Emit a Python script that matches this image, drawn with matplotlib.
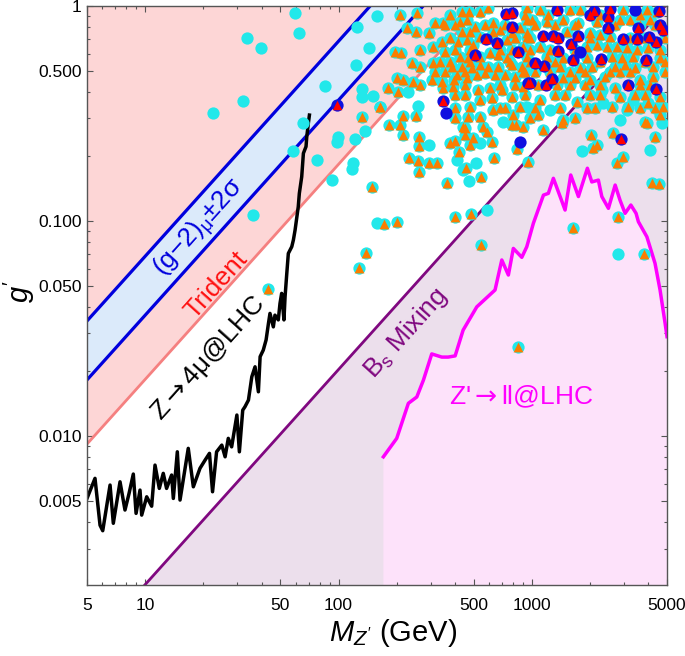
import numpy as np
import matplotlib
matplotlib.use('Agg')
import matplotlib.pyplot as plt
from matplotlib.ticker import FixedLocator, LogLocator, NullFormatter, FixedFormatter

plt.rcParams['font.family'] = ['Liberation Sans', 'DejaVu Sans']
plt.rcParams['mathtext.fontset'] = 'custom'
plt.rcParams['mathtext.rm'] = 'Liberation Sans'
plt.rcParams['mathtext.it'] = 'Liberation Sans:italic'
plt.rcParams['mathtext.bf'] = 'Liberation Sans:bold'
plt.rcParams['mathtext.sf'] = 'DejaVu Sans'

# straight constraint lines (g' proportional to M_Z')
line_M = [5, 5000]
gm2_upper_g = [0.0343, 34.3]
gm2_lower_g = [0.01825, 18.25]
trident_g = [0.00918, 9.18]
bs_g = [0.00102, 1.02]

# Z -> 4mu @ LHC bound
z4mu_M = [5.0, 5.5, 5.84, 6.03, 6.58, 6.84, 7.41, 7.86, 8.25, 8.68, 8.97, 9.40, 9.59, 10.18,
          10.8, 11.24, 11.83, 12.4, 12.9, 13.7, 13.98, 14.66, 15.14, 16.7, 17.74, 19.2, 20.4,
          21.5, 22.3, 23.4, 24.9, 25.9, 26.9, 28.0, 29.8, 30.7, 31.95, 32.8, 34.2, 35.6, 37.0,
          38.5, 39.3, 40.8, 42.2, 43.4, 44.2, 46.0, 46.9, 48.8, 49.8, 50.8, 52.2, 52.9, 54.0,
          55.0, 57.3, 58.4, 59.6, 61.9, 62.7, 64.5, 65.8, 67.9, 68.5, 69.8, 70.7]
z4mu_g = [0.00513, 0.00636, 0.00385, 0.00363, 0.00592, 0.00393, 0.00613, 0.00453, 0.00541,
          0.00666, 0.00437, 0.00561, 0.00429, 0.00522, 0.00472, 0.00733, 0.00571, 0.00671,
          0.00571, 0.00659, 0.00513, 0.00845, 0.00504, 0.00877, 0.00581, 0.00708, 0.00773,
          0.00831, 0.00551, 0.00845, 0.00908, 0.00801, 0.00976, 0.00891, 0.01253, 0.00845,
          0.0132, 0.01368, 0.0147, 0.01887, 0.0210, 0.01607, 0.0234, 0.0251, 0.0280, 0.0334,
          0.0372, 0.0322, 0.0365, 0.0347, 0.0414, 0.0461, 0.0347, 0.0445, 0.0571, 0.0707,
          0.0760, 0.0816, 0.0908, 0.1166, 0.1345, 0.1607, 0.2065, 0.222, 0.2466, 0.285, 0.311]

# Z' -> ll @ LHC bound
zll_M = [170.6, 200, 229.7, 254, 274.8, 303.5, 342, 369, 401, 441, 519, 645, 699, 756, 802,
         887, 941, 1018, 1148, 1217, 1292, 1400, 1485, 1589, 1741, 1937, 2042, 2208, 2300,
         2489, 2697, 2858, 3035, 3251, 3459, 3556, 3934, 4335, 4603, 4890, 5000]
zll_g = [0.00801, 0.00976, 0.0142, 0.0152, 0.0182, 0.0241, 0.0233, 0.0233, 0.0236, 0.0311,
         0.0399, 0.0478, 0.0659, 0.0561, 0.0746, 0.0678, 0.0759, 0.0976, 0.132, 0.1345, 0.158,
         0.130, 0.1125, 0.1637, 0.130, 0.176, 0.152, 0.155, 0.130, 0.1146, 0.147, 0.125, 0.1086,
         0.1187, 0.1086, 0.0993, 0.0845, 0.0636, 0.0478, 0.0334, 0.029]

# scan points: (M_Z', g')
cyan_pts = [(22.4, 0.318), (31.9, 0.363), (33.8, 0.707), (39.6, 0.640), (59.6, 0.925),
            (62.5, 0.746), (85.1, 0.426), (65.8, 0.285), (58.4, 0.212), (77.1, 0.192),
            (36.3, 0.1066), (92.3, 0.156), (98, 0.234), (99.8, 0.245), (122, 0.240),
            (119, 0.1855), (117, 0.174), (137, 0.263), (133, 0.410), (132, 0.379),
            (150, 0.383), (124, 0.801), (158, 0.901), (143, 0.636), (123, 0.532),
            (230, 0.399), (259, 0.343), (294, 0.2256), (158, 0.0976), (409, 0.192),
            (514, 0.1855), (439, 0.1726), (475, 0.1535), (540, 0.2298), (585, 0.1125),
            (1811, 0.2124), (4088, 0.214), (712, 0.290), (2804, 0.0702), (941, 0.340),
            (1242, 0.328), (2300, 0.407), (2344, 0.353), (3350, 0.365), (3097, 0.328),
            (2858, 0.295), (4700, 0.285)]

orange_pts = [(132, 0.306), (163, 0.338), (149, 0.1435), (171, 0.0968), (200, 0.0993),
              (138, 0.0712), (128, 0.0603), (43.4, 0.0484), (182, 0.2795), (208, 0.2795),
              (216, 0.251), (215, 0.308), (252, 0.308), (262, 0.2467), (261, 0.224),
              (232, 0.196), (259, 0.191), (295, 0.1867), (322, 0.1855), (262, 0.1684),
              (363, 0.1497), (377, 0.2298), (401, 0.2363), (422, 0.2088), (451, 0.270),
              (451, 0.251), (479, 0.2256), (498, 0.2425), (457, 0.176), (546, 0.1597),
              (561, 0.2746), (584, 0.260), (620, 0.2338), (640, 0.196), (828, 0.2795),
              (904, 0.2746), (841, 0.2156), (960, 0.1887), (1147, 0.265), (1428, 0.285),
              (2018, 0.251), (2080, 0.218), (2167, 0.2256), (2640, 0.2575), (2975, 0.199),
              (2769, 0.1855), (3930, 0.2866), (4335, 0.2467), (4170, 0.1497), (4570, 0.1486),
              (401, 0.104), (483, 0.1078), (546, 0.0773), (2804, 0.1047), (1628, 0.0925),
              (851, 0.0260), (3806, 0.0702),
              (208, 0.908), (256, 0.925), (225, 0.788), (252, 0.760), (292, 0.751),
              (316, 0.831), (349, 0.831), (307, 0.647), (342, 0.682), (356, 0.613),
              (196, 0.613), (210, 0.603), (239, 0.5414), (264, 0.522), (309, 0.5414),
              (200, 0.461), (216, 0.453), (244, 0.445), (303, 0.453), (181, 0.414),
              (204, 0.399), (164, 0.340), (392, 0.421), (396, 0.453), (434, 0.941),
              (475, 0.941), (540, 0.941), (595, 0.976), (425, 0.845), (460, 0.861),
              (434, 0.760), (479, 0.760), (417, 0.682), (460, 0.695), (498, 0.659),
              (540, 0.720), (508, 0.801), (632, 0.831), (632, 0.760), (685, 0.773),
              (741, 0.695), (787, 0.746), (869, 0.788), (941, 0.720), (941, 0.861),
              (425, 0.581), (470, 0.571), (540, 0.581), (608, 0.603), (671, 0.592),
              (741, 0.571), (941, 0.581), (385, 0.522), (434, 0.522), (489, 0.513),
              (540, 0.532), (595, 0.522), (671, 0.522), (787, 0.532), (887, 0.522),
              (409, 0.478), (460, 0.461), (519, 0.478), (573, 0.486), (645, 0.478),
              (727, 0.478), (819, 0.469), (922, 0.495), (529, 0.407), (608, 0.414),
              (699, 0.407), (787, 0.379), (479, 0.340), (540, 0.365), (620, 0.372),
              (470, 0.306), (632, 0.328), (727, 0.334), (802, 0.311), (869, 0.340),
              (787, 0.2795), (540, 0.306), (442, 0.2746), (349, 0.414), (342, 0.445),
              (941, 0.976), (1102, 0.958), (1576, 0.958), (1775, 0.958), (2975, 0.958),
              (3930, 0.958), (4426, 0.941), (999, 0.861), (1194, 0.845), (1455, 0.861),
              (1740, 0.831), (2167, 0.845), (2858, 0.861), (3220, 0.861), (4086, 0.861),
              (941, 0.746), (1516, 0.760), (2000, 0.746), (2253, 0.733), (2538, 0.720),
              (904, 0.647), (1102, 0.647), (1923, 0.647), (2167, 0.659), (2441, 0.647),
              (2750, 0.647), (3097, 0.636), (3490, 0.624), (4005, 0.636), (4603, 0.624),
              (1194, 0.581), (1455, 0.571), (1923, 0.571), (2591, 0.581), (2918, 0.571),
              (3350, 0.581), (4603, 0.571), (1399, 0.522), (1775, 0.513), (2042, 0.522),
              (2695, 0.522), (3035, 0.532), (3420, 0.513), (4253, 0.522), (904, 0.495),
              (1455, 0.461), (1673, 0.461), (2000, 0.453), (2393, 0.469), (3627, 0.453),
              (4253, 0.469), (904, 0.421), (1081, 0.4292), (1346, 0.4292), (2695, 0.414),
              (2858, 0.379), (3850, 0.386), (4603, 0.379), (1102, 0.365), (1708, 0.359),
              (1923, 0.334), (2591, 0.340), (3155, 0.340), (4005, 0.353), (4790, 0.340),
              (1081, 0.311), (1455, 0.295), (3850, 0.290), (4603, 0.311),
              # extra points in the crowded upper right corner
              (377, 0.908), (922, 0.908), (1213, 0.908), (2253, 0.908), (3627, 0.908),
              (356, 0.816), (401, 0.816), (573, 0.816), (727, 0.816), (1039, 0.816),
              (1318, 0.816), (1673, 0.816), (2695, 0.816), (3627, 0.816), (4335, 0.816),
              (377, 0.710), (608, 0.710), (819, 0.710), (979, 0.710), (2000, 0.710),
              (3220, 0.710), (3850, 0.710), (4887, 0.710),
              (264, 0.624), (401, 0.624), (479, 0.624), (685, 0.624), (787, 0.624),
              (979, 0.624), (1242, 0.624), (1673, 0.624),
              (335, 0.549), (377, 0.549), (479, 0.549), (771, 0.549), (979, 0.549),
              (1318, 0.549), (2253, 0.549), (3850, 0.549), (4887, 0.549),
              (316, 0.493), (356, 0.493), (451, 0.493), (1039, 0.493), (1242, 0.493),
              (1576, 0.493), (1885, 0.493), (2538, 0.493), (2858, 0.493), (3220, 0.493),
              (4887, 0.493),
              (264, 0.4292), (451, 0.4292), (685, 0.4292), (819, 0.4292), (1576, 0.4292),
              (1885, 0.4292), (2253, 0.4292), (3627, 0.4292), (4086, 0.4292),
              (401, 0.386), (451, 0.386), (922, 0.386), (1318, 0.386), (1485, 0.386),
              (2000, 0.386), (2253, 0.386), (3420, 0.386),
              (401, 0.335), (685, 0.335), (1039, 0.335), (1399, 0.335), (2123, 0.335),
              (3627, 0.335), (4335, 0.335),
              (401, 0.301), (979, 0.301), (1673, 0.301)]

blue_pts = [(360, 0.317), (1775, 0.613), (3420, 0.958), (869, 0.234)]

red_pts = [(736, 0.918), (787, 0.931), (787, 0.801), (580, 0.700), (659, 0.675), (508, 0.592),
           (851, 0.613), (349, 0.363), (960, 0.437), (1355, 0.958), (2099, 0.951), (2000, 0.908),
           (2538, 0.965), (2489, 0.892), (4570, 0.951), (2489, 0.788), (3556, 0.788),
           (4603, 0.816), (4790, 0.773), (1147, 0.725), (1283, 0.725), (1361, 0.707),
           (1740, 0.725), (1589, 0.663), (1361, 0.620), (2975, 0.702), (3490, 0.700),
           (4055, 0.720), (4390, 0.678), (1628, 0.561), (2273, 0.567), (3898, 0.561),
           (1039, 0.545), (1161, 0.528), (1268, 0.4575), (979, 0.4396), (1185, 0.4292),
           (3155, 0.4292), (4390, 0.410), (2884, 0.2405), (98, 0.346)]

x_ticks = [5, 10, 50, 100, 500, 1000, 5000]
x_labels = ['5', '10', '50', '100', '500', '1000', '5000']
y_ticks = [0.005, 0.01, 0.05, 0.1, 0.5, 1]
y_labels = ['0.005', '0.010', '0.050', '0.100', '0.500', '1']

fig = plt.figure(figsize=(6.85, 6.56), dpi=100)
ax = fig.add_axes([87 / 685, 71 / 656, 580 / 685, 579 / 656])
ax.set_xscale('log')
ax.set_yscale('log')
ax.set_xlim(5, 5000)
ax.set_ylim(0.00203, 1)

# shaded regions
ax.fill_between(line_M, trident_g, 100, color='#fdd6d6', lw=0, zorder=0)
ax.fill_between(line_M, gm2_lower_g, gm2_upper_g, color='#dbeafa', lw=0, zorder=0.5)
ax.fill_between(line_M, 1e-4, bs_g, color='#ecdfec', lw=0, zorder=1)
ax.fill_between(zll_M, 1e-4, zll_g, color='#fde2fa', lw=0, zorder=1.2)

# boundaries
ax.plot(line_M, trident_g, color='#f58080', lw=2, zorder=2)
ax.plot(line_M, gm2_upper_g, color='#0000dd', lw=2.3, zorder=2)
ax.plot(line_M, gm2_lower_g, color='#0000dd', lw=2.3, zorder=2)
ax.plot(line_M, bs_g, color='#800880', lw=2, zorder=2)
ax.plot(zll_M, zll_g, color='#ff00ff', lw=2.5, zorder=2)
ax.plot(z4mu_M, z4mu_g, color='black', lw=2.5, zorder=2.5)

# scan points
cyan = np.array(cyan_pts + orange_pts)
orange = np.array(orange_pts)
blue = np.array(blue_pts + red_pts)
red = np.array(red_pts)
ax.scatter(cyan[:, 0], cyan[:, 1], s=78, marker='o', color='#22e8ea', lw=0, zorder=3)
ax.scatter(orange[:, 0], orange[:, 1], s=50, marker='^', color='#fa7d00', lw=0, zorder=3.1)
ax.scatter(blue[:, 0], blue[:, 1], s=78, marker='o', color='#1010e0', lw=0, zorder=3.2)
ax.scatter(red[:, 0], red[:, 1], s=46, marker='^', color='#ff0000', lw=0, zorder=3.3)

# rotated labels follow the diagonal lines
p0 = ax.transData.transform((10, 0.01))
p1 = ax.transData.transform((100, 0.1))
angle = np.degrees(np.arctan2(p1[1] - p0[1], p1[0] - p0[0]))
fs = 19
ax.text(19.2, 0.0928, r'(g$-$2)$_{\mathrm{\mu}}$$\pm$2$\mathrm{\sigma}$', color='#0000dd',
        fontsize=fs, rotation=angle, ha='center', va='center', rotation_mode='anchor', zorder=4)
ax.text(23.2, 0.0504, 'Trident', color='#ff1010', fontsize=fs, rotation=angle,
        ha='center', va='center', rotation_mode='anchor', zorder=4)
ax.text(21.1, 0.0231, r'Z$\mathsf{\rightarrow}$4μ@LHC', color='black', fontsize=fs,
        rotation=angle, ha='center', va='center', rotation_mode='anchor', zorder=4)
ax.text(223, 0.0301, r'B$_\mathrm{s}$ Mixing', color='#800880', fontsize=fs, rotation=angle,
        ha='center', va='center', rotation_mode='anchor', zorder=4)
ax.text(879, 0.0152, r"Z'$\mathsf{\rightarrow}$ll@LHC", color='#ff00ff', fontsize=fs,
        ha='center', va='center', zorder=4)

# axes and ticks
ax.xaxis.set_major_locator(FixedLocator(x_ticks))
ax.xaxis.set_major_formatter(FixedFormatter(x_labels))
ax.yaxis.set_major_locator(FixedLocator(y_ticks))
ax.yaxis.set_major_formatter(FixedFormatter(y_labels))
ax.xaxis.set_minor_locator(LogLocator(base=10, subs=np.arange(2, 10)))
ax.yaxis.set_minor_locator(LogLocator(base=10, subs=np.arange(2, 10)))
ax.xaxis.set_minor_formatter(NullFormatter())
ax.yaxis.set_minor_formatter(NullFormatter())
ax.tick_params(which='both', direction='in', top=True, right=True, color='#555555',
               labelsize=12.5, width=0.8)
ax.tick_params(which='major', length=4.5)
ax.tick_params(which='minor', length=2.5)
ax.tick_params(axis='x', pad=9)
ax.tick_params(axis='y', pad=4)
for s in ax.spines.values():
    s.set_color('#555555')
    s.set_linewidth(1)

ax.text(0.528, -0.083, r"$M_{Z'}$ (GeV)", transform=ax.transAxes, fontsize=21,
        ha='center', va='center')
ax.text(-0.117, 0.506, r"$g'$", transform=ax.transAxes, fontsize=21, rotation=90,
        ha='center', va='center')

fig.savefig('out.png', dpi=100)
